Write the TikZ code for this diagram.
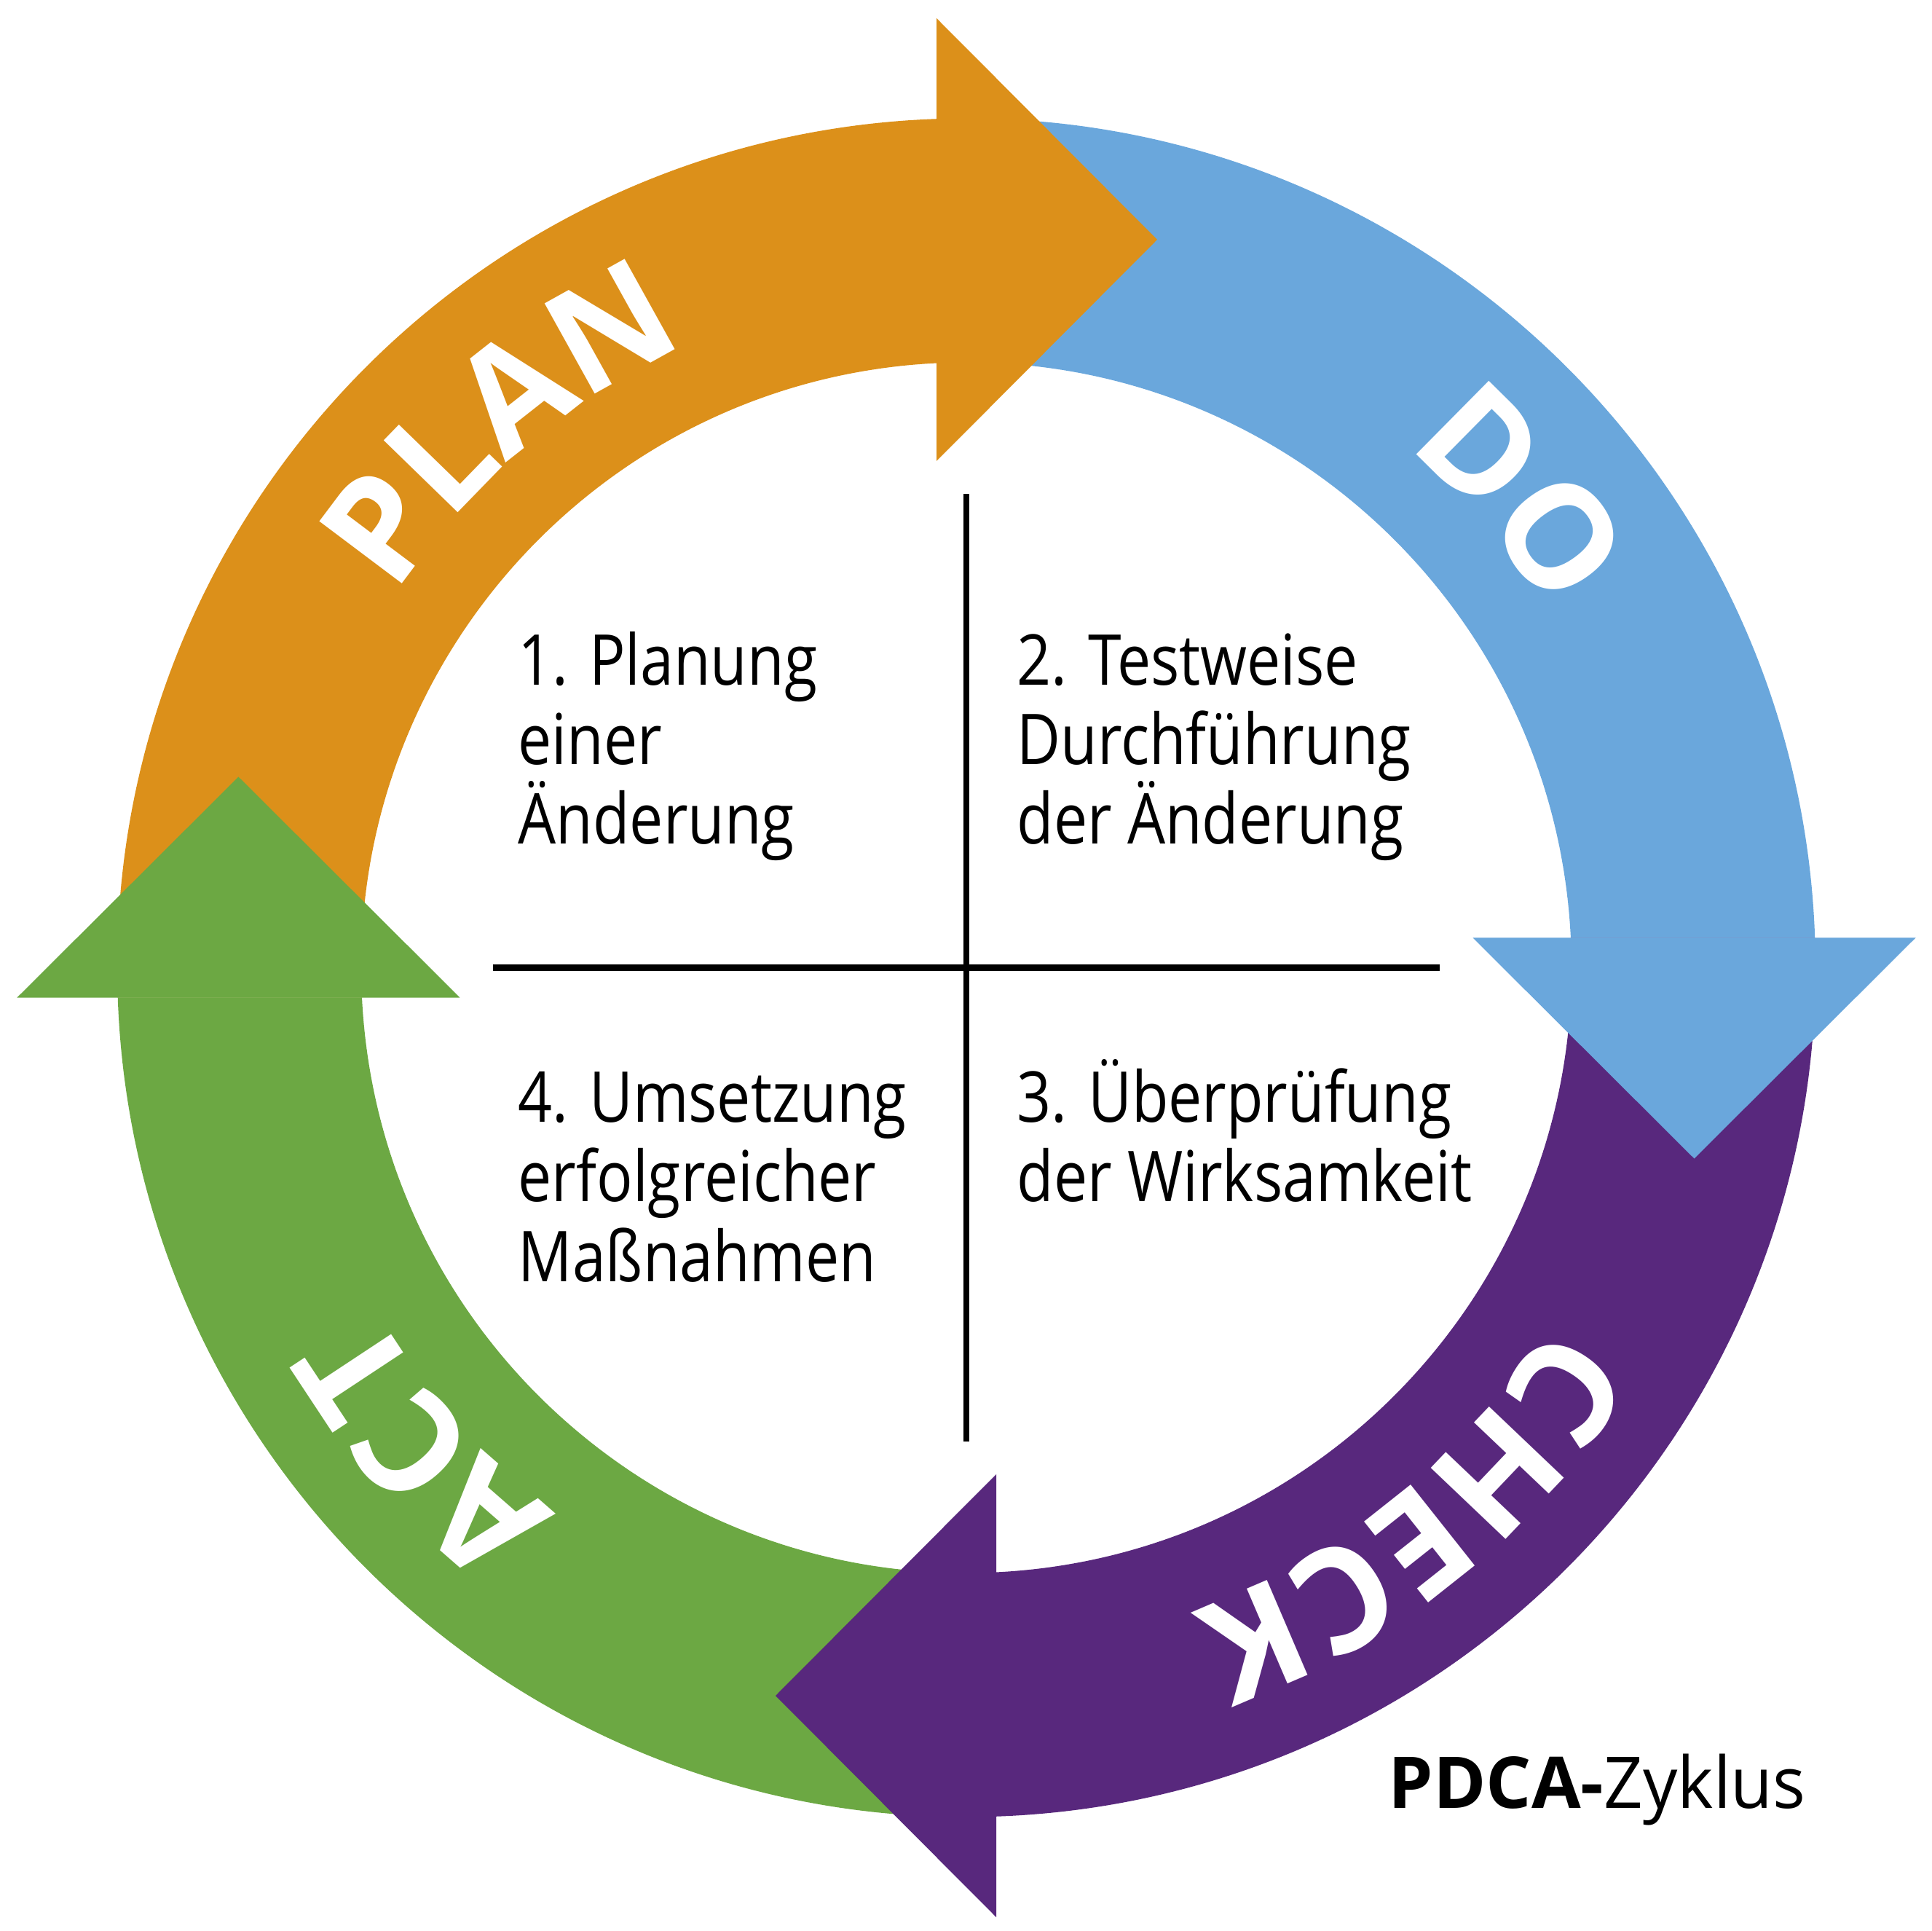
\documentclass[tikz,border=0pt]{standalone}
\usepackage{fontspec}
\usepackage{xcolor}
\usetikzlibrary{decorations.text}
\setmainfont{Open Sans}
\newfontfamily\bodyfont{Open Sans}[FakeStretch=0.855]
\newfontfamily\zykfont{Open Sans}[FakeStretch=0.96]
\newcommand\ringfont{\fontsize{56.5}{60}\selectfont\bfseries\color{white}}
\definecolor{planorange}{RGB}{220,144,26}
\definecolor{doblue}{RGB}{106,167,220}
\definecolor{checkpurple}{RGB}{88,40,125}
\definecolor{actgreen}{RGB}{108,168,67}

\begin{document}
\begin{tikzpicture}[x=1cm, y=1cm,
  quarter/.style = {inner sep=0pt, anchor=base west, align=left,
    font=\bodyfont\fontsize{27.4}{31.15}\selectfont},
  ringlabel/.style = {decorate, decoration={text along path,
    text align=center, text={|\ringfont|#1}}},
  divider/.style = {line width=2.4pt}]
  \useasboundingbox (-13.27,-13.215) rectangle (13.26,13.285);
  \foreach \ang/\col in {0/planorange, -90/doblue, -180/checkpurple, -270/actgreen}
    \fill[\col, rotate=\ang] (182.015:11.66)
      arc[start angle=182.015, end angle=92.015, radius=11.66]
      -- (92.828:8.31) arc[start angle=92.828, end angle=182.828, radius=8.31]
      -- cycle;
  \foreach \ang/\col in {0/planorange, -90/doblue, -180/checkpurple, -270/actgreen}
    \fill[\col, rotate=\ang] (-0.41,6.955) -- (2.62,9.995) -- (-0.41,13.035) -- cycle;
  \path[ringlabel=PLAN] (160.5:9.36) arc[start angle=160.5, end angle=100.5, radius=9.36];
  \path[ringlabel=DO] (70.5:9.36) arc[start angle=70.5, end angle=10.5, radius=9.36];
  \path[ringlabel=CHECK] (-21:9.36) arc[start angle=-21, end angle=-81, radius=9.36];
  \path[ringlabel=ACT] (251.5:9.36) arc[start angle=251.5, end angle=191.5, radius=9.36];
  \coordinate (top) at (0,6.5);
  \coordinate (bottom) at (0,-6.5);
  \coordinate (left) at (-6.5,0);
  \coordinate (right) at (6.5,0);
  \draw[divider] (top) -- (bottom);
  \draw[divider] (left) -- (right);
  \node[quarter] (plan) at (-6.16,1.695) {1. Planung\\einer\\Änderung};
  \node[quarter] (do) at (0.69,1.695) {2. Testweise\\Durchführung\\der Änderung};
  \node[quarter] (check) at (0.69,-3.21) {3. Überprüfung\\der Wirksamkeit};
  \node[quarter] (act) at (-6.16,-4.305) {4. Umsetzung\\erfolgreicher\\Maßnahmen};
  \node[inner sep=0pt, anchor=base west, font=\fontsize{27.9}{32}\selectfont]
    (title) at (5.79,-11.542) {\textbf{PDCA-}{\zykfont Zyklus}};
\end{tikzpicture}
\end{document}
